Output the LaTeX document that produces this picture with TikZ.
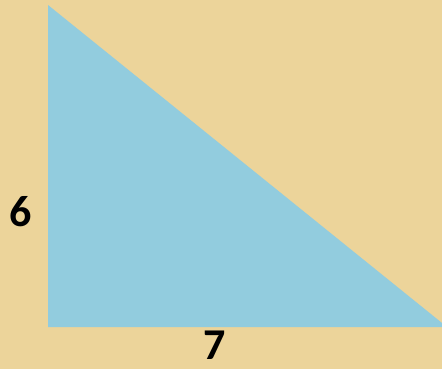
\documentclass[tikz,border=0pt]{standalone}
\usepackage{fontspec}
\setmainfont{Carlito}
\usepackage{tikz}
\usetikzlibrary{positioning}
\definecolor{papyrus}{RGB}{236,212,154}
\definecolor{skyfill}{RGB}{146,204,222}

\begin{document}
\begin{tikzpicture}[x=0.75pt,y=-0.75pt,
  side/.style={font=\fontsize{33}{36}\selectfont\bfseries,text=black,inner sep=0pt},
]
% background
\fill[papyrus] (0,0) rectangle (442,369);
\useasboundingbox (0,0) rectangle (442,369);
\coordinate (top) at (48,5);
\coordinate (corner) at (48,327);
\coordinate (right) at (447,327);
\fill[skyfill] (corner) -- (right) -- (top) -- cycle;
\node[side] (h) at (21,212) {6};
\node[side] (b) at (215,345) {7};
\end{tikzpicture}
\end{document}
